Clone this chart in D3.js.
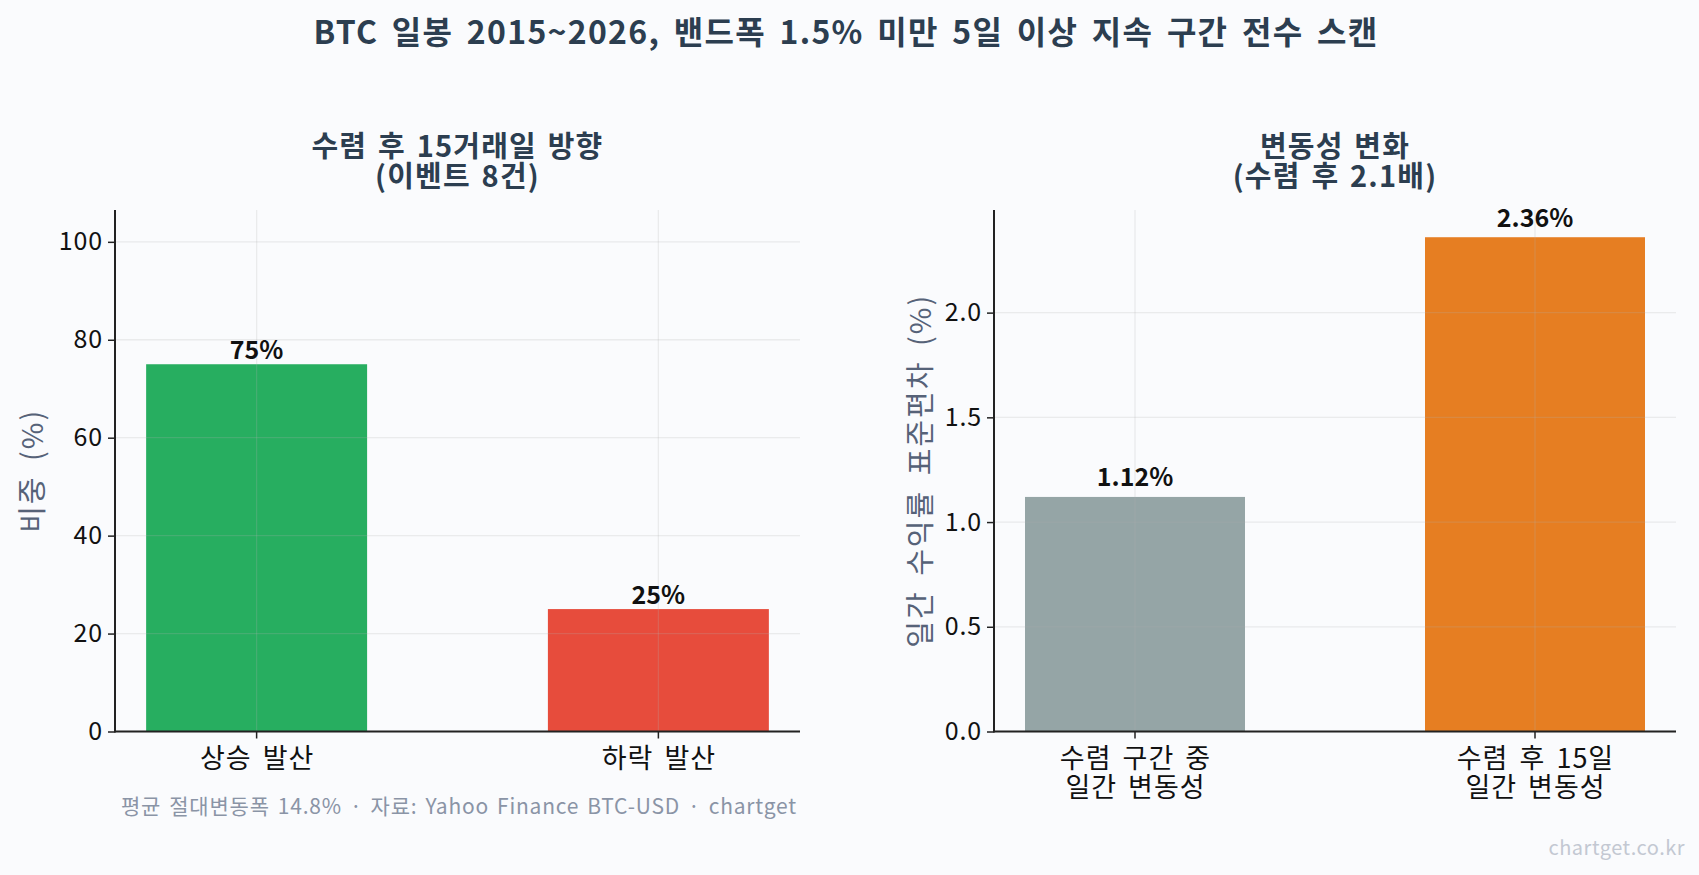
<!DOCTYPE html>
<html><head><meta charset="utf-8">
<script src="https://cdn.jsdelivr.net/npm/d3@7"></script>
<style>
html,body{margin:0;padding:0;background:#fafbfd;}
svg{display:block;font-family:"Noto Sans CJK KR","Noto Sans",sans-serif;}
</style></head>
<body><svg id="c" width="1699" height="875"></svg>
<script>
const mainTitle = "BTC 일봉 2015~2026, 밴드폭 1.5% 미만 5일 이상 지속 구간 전수 스캔";
const leftTitle = ["수렴 후 15거래일 방향", "(이벤트 8건)"];
const rightTitle = ["변동성 변화", "(수렴 후 2.1배)"];
const dirCategories = [["상승 발산"], ["하락 발산"]];
const dirValues = [75, 25];
const dirLabels = ["75%", "25%"];
const dirColors = ["#27ae60", "#e74c3c"];
const dirTicks = [0, 20, 40, 60, 80, 100];
const volCategories = [["수렴 구간 중", "일간 변동성"], ["수렴 후 15일", "일간 변동성"]];
const volValues = [1.12, 2.36];
const volLabels = ["1.12%", "2.36%"];
const volColors = ["#95a5a6", "#e67e22"];
const volTicks = [0.0, 0.5, 1.0, 1.5, 2.0];
const leftYLabel = "비중 (%)";
const rightYLabel = "일간 수익률 표준편차 (%)";
const footnote = "평균 절대변동폭 14.8% · 자료: Yahoo Finance BTC-USD · chartget";
const watermark = "chartget.co.kr";

const svg = d3.select("#c");
svg.append("rect").attr("width",1699).attr("height",875).attr("fill","#fafbfd");

svg.append("text").attr("x",846).attr("y",44).attr("text-anchor","middle")
  .attr("font-size",32).attr("font-weight","bold").attr("fill","#2c3e50")
  .attr("letter-spacing",1.3).attr("word-spacing",5).text(mainTitle);

function panel(o){
  const g = svg.append("g");
  const x = d3.scaleLinear().domain([-0.3525, 1.3525]).range([o.x0, o.x1]);
  const y = d3.scaleLinear().domain([0, o.ymax]).range([731.5, 210]);
  const bw = x(0.55) - x(0);
  // bars
  g.selectAll("rect.bar").data(o.values).join("rect").attr("class","bar")
    .attr("x",(d,i)=>x(i)-bw/2).attr("width",bw)
    .attr("y",d=>y(d)).attr("height",d=>y(0)-y(d))
    .attr("fill",(d,i)=>o.colors[i]);
  // grid (on top, faint)
  g.selectAll("line.hg").data(o.ticks).join("line").attr("class","hg")
    .attr("x1",o.x0).attr("x2",o.x1).attr("y1",d=>y(d)).attr("y2",d=>y(d))
    .attr("stroke","#b0b0b0").attr("stroke-opacity",0.22).attr("stroke-width",1.3);
  g.selectAll("line.vg").data(o.values).join("line").attr("class","vg")
    .attr("x1",(d,i)=>x(i)).attr("x2",(d,i)=>x(i)).attr("y1",210).attr("y2",731.5)
    .attr("stroke","#b0b0b0").attr("stroke-opacity",0.22).attr("stroke-width",1.3);
  // axes
  const ya = d3.axisLeft(y).tickValues(o.ticks).tickFormat(o.fmt).tickSize(7).tickPadding(6);
  const yg = g.append("g").attr("transform",`translate(${o.x0},0)`).call(ya);
  yg.select(".domain").remove();
  yg.selectAll(".tick line").attr("stroke","#222").attr("stroke-width",1.5);
  yg.selectAll(".tick text").attr("font-size",25).attr("fill","#111")
    .attr("letter-spacing",0.8).attr("dx",0.8)
    .attr("font-family",'"Noto Sans CJK KR","Noto Sans",sans-serif');
  g.append("line").attr("x1",o.x0).attr("x2",o.x0).attr("y1",210).attr("y2",732.5)
    .attr("stroke","#222").attr("stroke-width",2);
  g.append("line").attr("x1",o.x0).attr("x2",o.x1).attr("y1",731.5).attr("y2",731.5)
    .attr("stroke","#222").attr("stroke-width",2);
  // x ticks
  o.cats.forEach((lines,i)=>{
    g.append("line").attr("x1",x(i)).attr("x2",x(i)).attr("y1",731.5).attr("y2",738.5)
      .attr("stroke","#222").attr("stroke-width",1.5);
    lines.forEach((l,j)=>{
      g.append("text").attr("x",x(i)+0.5).attr("y",768+j*28.5).attr("text-anchor","middle")
        .attr("font-size",27).attr("fill","#111")
        .attr("letter-spacing",1).attr("word-spacing",4).text(l);
    });
  });
  // value labels
  g.selectAll("text.val").data(o.values).join("text").attr("class","val")
    .attr("x",(d,i)=>x(i)).attr("y",d=>y(d+o.off)).attr("text-anchor","middle")
    .attr("font-size",25).attr("font-weight","bold").attr("fill","#111")
    .text((d,i)=>o.labels[i]);
  // subplot title
  const cx = (o.x0+o.x1)/2;
  o.title.forEach((l,j)=>{
    g.append("text").attr("x",cx).attr("y",157+j*30).attr("text-anchor","middle")
      .attr("font-size",29).attr("font-weight","bold").attr("fill","#2c3e50")
      .attr("letter-spacing",1.2).attr("word-spacing",3).text(l);
  });
  // y label
  g.append("text").attr("transform",`translate(${o.ylx},${(210+731.5)/2}) rotate(-90)`)
    .attr("text-anchor","middle").attr("dominant-baseline","central")
    .attr("font-size",29).attr("fill","#566278")
    .attr("letter-spacing",2).attr("word-spacing",6).text(o.ylabel);
  return {x,y};
}

panel({x0:115,x1:800,ymax:106.5,values:dirValues,colors:dirColors,ticks:dirTicks,
  fmt:d3.format("d"),cats:dirCategories,labels:dirLabels,off:1.0,title:leftTitle,
  ylabel:leftYLabel,ylx:30});
panel({x0:994,x1:1676,ymax:2.49,values:volValues,colors:volColors,ticks:volTicks,
  fmt:d3.format(".1f"),cats:volCategories,labels:volLabels,off:0.05,title:rightTitle,
  ylabel:rightYLabel,ylx:918});

svg.append("text").attr("x",797).attr("y",814).attr("text-anchor","end")
  .attr("font-size",21).attr("fill","#8a94a6")
  .attr("letter-spacing",0.8).attr("word-spacing",2.5).text(footnote);
svg.append("text").attr("x",1685).attr("y",855).attr("text-anchor","end")
  .attr("font-size",20).attr("fill","#c3c8d2")
  .attr("letter-spacing",0.5).text(watermark);
</script></body></html>
